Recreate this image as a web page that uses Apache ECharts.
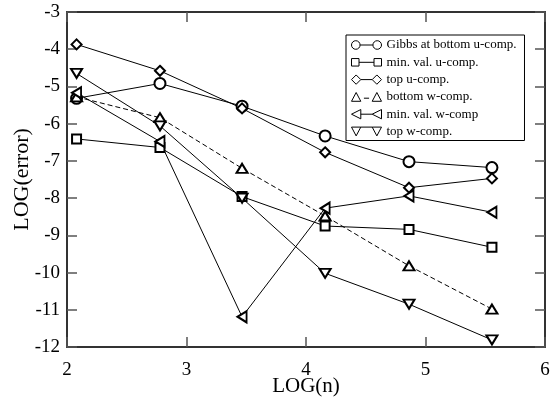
<!DOCTYPE html>
<html>
<head>
<meta charset="utf-8">
<script src="https://cdn.jsdelivr.net/npm/echarts@6/dist/echarts.min.js"></script>
<style>html,body{margin:0;padding:0;background:#fff;}#c{width:553px;height:400px;}</style>
</head>
<body>
<div id="c"></div>
<script>
const logN = [2.08, 2.778, 3.465, 4.16, 4.862, 5.556];
const gibbsBottomU = [-5.32, -4.92, -5.53, -6.33, -7.02, -7.18];
const minValU = [-6.41, -6.64, -7.96, -8.75, -8.84, -9.32];
const topU = [-3.87, -4.58, -5.59, -6.77, -7.72, -7.47];
const bottomW = [-5.28, -5.84, -7.2, -8.48, -9.82, -10.98];
const minValW = [-5.17, -6.48, -11.19, -8.27, -7.94, -8.38];
const topW = [-4.65, -6.06, -8.0, -10.02, -10.85, -11.81];
const seriesNames = ['Gibbs at bottom u-comp.', 'min. val. u-comp.', 'top u-comp.', 'bottom w-comp.', 'min. val. w-comp', 'top w-comp.'];
const xTicks = [2, 3, 4, 5, 6];
const yTicks = [-12, -11, -10, -9, -8, -7, -6, -5, -4, -3];

const FONT = "'Liberation Serif', 'DejaVu Serif', serif";
const pair = (x, y) => x.map((v, i) => [v, y[i]]);

const icons = [
  'path://M1,5a4,4 0 1,0 8,0a4,4 0 1,0 -8,0M9,5L21,5M21,5a4,4 0 1,0 8,0a4,4 0 1,0 -8,0',
  'path://M1,1.5h7v7h-7zM8,5H22M22,1.5h7v7h-7z',
  'path://M0.5,5L5,0.5L9.5,5L5,9.5ZM9.5,5H20.5M20.5,5L25,0.5L29.5,5L25,9.5Z',
  'path://M0.5,9.5L5,1L9.5,9.5ZM12.5,6.5H17.5M20.5,9.5L25,1L29.5,9.5Z',
  'path://M0.5,5L9.5,0.5V9.5ZM9.5,5H20.5M20.5,5L29.5,0.5V9.5Z',
  'path://M0.5,1H9.5L5,9.5ZM9.5,1H20.5M20.5,1H29.5L25,9.5Z'
];

function mk(name, data, symbol, size, rotate, dashed) {
  return {
    name: name, type: 'line', data: data,
    xAxisIndex: 0, yAxisIndex: 0,
    symbol: symbol, symbolSize: size, symbolRotate: rotate,
    showAllSymbol: true,
    lineStyle: { color: '#000', width: 1, type: dashed ? [5, 3] : 'solid' },
    itemStyle: { color: '#000', borderColor: '#000', borderWidth: 1 },
    emphasis: { disabled: true },
    animation: false
  };
}

const chart = echarts.init(document.getElementById('c'), null, { renderer: 'canvas' });
const axisCommon = {
  axisLine: { show: true, lineStyle: { color: '#333', width: 2 } },
  axisTick: { show: true, inside: true, length: 10, lineStyle: { color: '#555', width: 1.5 } },
  splitLine: { show: false }
};
chart.setOption({
  animation: false,
  backgroundColor: '#fff',
  grid: { left: 67, right: 8, top: 12, bottom: 53, containLabel: false, outerBoundsMode: 'none' },
  xAxis: [
    Object.assign({
      type: 'value', min: xTicks[0], max: xTicks[xTicks.length - 1], interval: 1, position: 'bottom',
      name: 'LOG(n)', nameLocation: 'middle', nameGap: 29, nameMoveOverlap: false,
      nameTextStyle: { fontFamily: FONT, fontSize: 21, color: '#000' },
      axisLabel: { fontFamily: FONT, fontSize: 19, color: '#000', margin: 14 }
    }, axisCommon),
    Object.assign({
      type: 'value', min: xTicks[0], max: xTicks[xTicks.length - 1], interval: 1, position: 'top',
      axisLabel: { show: false }
    }, axisCommon)
  ],
  yAxis: [
    Object.assign({
      type: 'value', min: yTicks[0], max: yTicks[yTicks.length - 1], interval: 1, position: 'left',
      name: 'LOG(error)', nameLocation: 'middle', nameGap: 34, nameMoveOverlap: false,
      nameTextStyle: { fontFamily: FONT, fontSize: 22, color: '#000' },
      axisLabel: { fontFamily: FONT, fontSize: 19, color: '#000', margin: 7 }
    }, axisCommon),
    Object.assign({
      type: 'value', min: yTicks[0], max: yTicks[yTicks.length - 1], interval: 1, position: 'right',
      axisLabel: { show: false }
    }, axisCommon)
  ],
  legend: {
    orient: 'vertical', left: 346, top: 35,
    padding: [3, 8, 2, 5],
    itemWidth: 30, itemHeight: 10, itemGap: 3.3,
    backgroundColor: '#fff', borderColor: '#000', borderWidth: 1,
    selectedMode: false,
    itemStyle: { color: '#fff', borderColor: '#000', borderWidth: 1 },
    textStyle: { fontFamily: FONT, fontSize: 13, color: '#000', lineHeight: 14 },
    data: seriesNames.map((n, i) => ({ name: n, icon: icons[i] }))
  },
  series: [
    mk(seriesNames[0], pair(logN, gibbsBottomU), 'emptyCircle', 11, 0, false),
    mk(seriesNames[1], pair(logN, minValU), 'emptyRect', 9, 0, false),
    mk(seriesNames[2], pair(logN, topU), 'emptyDiamond', 10, 0, false),
    mk(seriesNames[3], pair(logN, bottomW), 'emptyTriangle', [11, 9], 0, true),
    mk(seriesNames[4], pair(logN, minValW), 'emptyTriangle', [11, 9], 90, false),
    mk(seriesNames[5], pair(logN, topW), 'emptyTriangle', [11, 9], 180, false)
  ]
});
</script>
</body>
</html>
